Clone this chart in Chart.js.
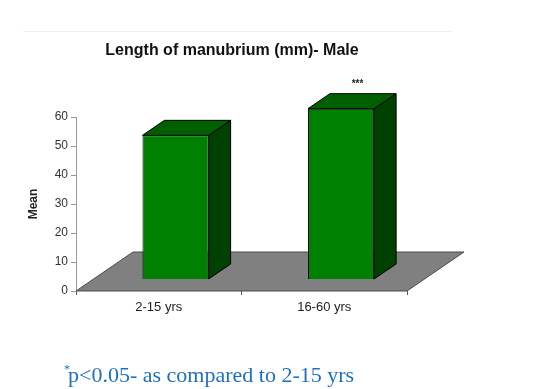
<!DOCTYPE html>
<html><head><meta charset="utf-8">
<script src="https://cdn.jsdelivr.net/npm/chart.js@4/dist/chart.umd.min.js"></script>
<style>html,body{margin:0;padding:0;background:#fff;}</style>
</head><body><canvas id="c" width="543" height="389"></canvas>
<script>
// ---- data ----
const categories = ['2-15 yrs', '16-60 yrs'];
const meanValues = [49.7, 58.9];
const significance = ['', '***'];
const yTicks = [0, 10, 20, 30, 40, 50, 60];
const chartTitle = 'Length of manubrium (mm)- Male';
const yTitle = 'Mean';
const footnoteMark = '*';
const footnoteText = 'p<0.05- as compared to 2-15 yrs';

// ---- 3D look ----
const DEPTH_X = 57, DEPTH_Y = -39;   // floor depth vector
const BAR_FRONT = 0.295;             // bar front plane (fraction of depth)
const BAR_DEPTH = 0.385;             // bar depth (fraction of depth)
const SANS = '"Liberation Sans", Arial, sans-serif';
const SERIF = '"Liberation Serif", "Times New Roman", serif';

const threeD = {
  id: 'threeD',
  beforeDatasetsDraw(chart) {
    const {ctx, chartArea: a, scales: {y}} = chart;
    const y0 = y.getPixelForValue(0);
    ctx.save();
    ctx.beginPath();
    ctx.moveTo(a.left, y0);
    ctx.lineTo(a.right, y0);
    ctx.lineTo(a.right + DEPTH_X, y0 + DEPTH_Y);
    ctx.lineTo(a.left + DEPTH_X, y0 + DEPTH_Y);
    ctx.closePath();
    ctx.fillStyle = '#808080';
    ctx.fill();
    ctx.strokeStyle = '#4a4a4a';
    ctx.lineWidth = 1;
    ctx.stroke();
    ctx.restore();
    ctx.save();
    ctx.translate(DEPTH_X * BAR_FRONT, DEPTH_Y * BAR_FRONT);
  },
  afterDatasetsDraw(chart) {
    const {ctx} = chart;
    ctx.restore();
    const ox = DEPTH_X * BAR_FRONT, oy = DEPTH_Y * BAR_FRONT;
    const dx = DEPTH_X * BAR_DEPTH, dy = DEPTH_Y * BAR_DEPTH;
    const meta = chart.getDatasetMeta(0);
    ctx.save();
    ctx.lineWidth = 1;
    ctx.strokeStyle = '#000';
    meta.data.forEach((bar, i) => {
      const l = bar.x - bar.width / 2 + ox, r = bar.x + bar.width / 2 + ox;
      const t = bar.y + oy, b = bar.base + oy;
      // side
      ctx.beginPath();
      ctx.moveTo(r, t); ctx.lineTo(r + dx, t + dy); ctx.lineTo(r + dx, b + dy); ctx.lineTo(r, b);
      ctx.closePath();
      ctx.fillStyle = '#004000'; ctx.fill(); ctx.stroke();
      // top
      ctx.beginPath();
      ctx.moveTo(l, t); ctx.lineTo(l + dx, t + dy); ctx.lineTo(r + dx, t + dy); ctx.lineTo(r, t);
      ctx.closePath();
      ctx.fillStyle = '#006000'; ctx.fill(); ctx.stroke();
      // significance label
      if (significance[i]) {
        ctx.fillStyle = '#222';
        ctx.font = 'bold 10px ' + SANS;
        ctx.textAlign = 'center';
        ctx.textBaseline = 'middle';
        ctx.fillText(significance[i], bar.x + ox + dx * 0.75, t + dy - 9);
      }
    });
    ctx.restore();
  },
  afterDraw(chart) {
    const {ctx} = chart;
    ctx.save();
    // faint frame line at top
    ctx.strokeStyle = '#f0f0f0';
    ctx.lineWidth = 1;
    ctx.beginPath(); ctx.moveTo(23, 31.5); ctx.lineTo(452, 31.5); ctx.stroke();
    // title
    ctx.fillStyle = '#111';
    ctx.font = 'bold 16px ' + SANS;
    ctx.textAlign = 'center';
    ctx.textBaseline = 'middle';
    ctx.fillText(chartTitle, 232, 51);
    // footnote
    ctx.fillStyle = '#1f6fc0';
    ctx.textAlign = 'left';
    ctx.textBaseline = 'alphabetic';
    ctx.font = '12px ' + SERIF;
    ctx.fillText(footnoteMark, 64, 373);
    ctx.font = '22px ' + SERIF;
    ctx.fillText(footnoteText, 68, 382);
    ctx.restore();
  }
};

new Chart(document.getElementById('c'), {
  type: 'bar',
  data: {
    labels: categories,
    datasets: [{
      label: yTitle,
      data: meanValues,
      backgroundColor: '#008000',
      borderColor: '#000',
      borderWidth: 1,
      barPercentage: 0.4,
      categoryPercentage: 1.0,
      clip: false
    }]
  },
  options: {
    responsive: false,
    animation: false,
    devicePixelRatio: 1,
    layout: {padding: {top: 117, right: 136, left: 0, bottom: 0}},
    plugins: {legend: {display: false}, title: {display: false}, tooltip: {enabled: false}},
    scales: {
      x: {
        offset: true,
        grid: {offset: true, drawOnChartArea: false, drawTicks: true, tickLength: 4, color: '#555'},
        border: {display: false},
        ticks: {font: {family: SANS, size: 13}, color: '#222', padding: 5, maxRotation: 0},
        afterFit(s) { s.height = 98; }
      },
      y: {
        min: 0, max: 60,
        afterBuildTicks(s) { s.ticks = yTicks.map(v => ({value: v})); },
        grid: {drawOnChartArea: false, drawTicks: true, tickLength: 5, color: '#999'},
        border: {display: true, color: '#999', width: 1},
        ticks: {font: {family: SANS, size: 12}, color: '#333', padding: 3},
        title: {display: true, text: yTitle, font: {family: SANS, size: 12, weight: 'bold'}, color: '#222', padding: {top: 26, bottom: 0}},
        afterFit(s) { s.width = 76; }
      }
    }
  },
  plugins: [threeD]
});
</script>
</body></html>
